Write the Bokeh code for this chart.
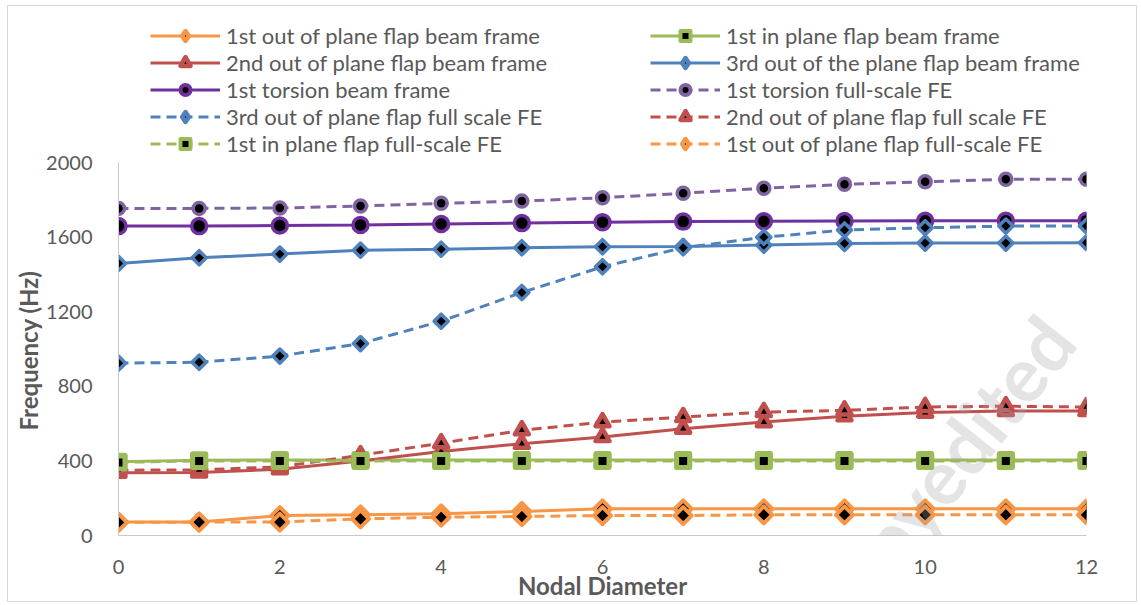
import math
from bokeh.plotting import figure
from bokeh.models import Legend, LegendItem, Label, FixedTicker, Range1d, Title
from bokeh.embed import file_html
from bokeh.resources import INLINE

# ---------------- data ----------------
nodal_diameter = list(range(13))
x_ticks = [0, 2, 4, 6, 8, 10, 12]
y_ticks = [0, 400, 800, 1200, 1600, 2000]

oop1_beam = [72, 72, 107, 111, 116, 129, 143, 143, 143, 143, 143, 143, 143]
ip1_beam = [395, 403, 405, 405, 405, 405, 405, 405, 405, 405, 405, 405, 405]
oop2_beam = [337, 338, 355, 400, 451, 492, 528, 573, 608, 639, 659, 668, 668]
oop3_beam = [1459, 1489, 1509, 1530, 1535, 1543, 1548, 1550, 1557, 1566, 1568, 1568, 1570]
tors1_beam = [1659, 1659, 1662, 1665, 1670, 1675, 1680, 1683, 1685, 1686, 1687, 1688, 1688]
tors1_fe = [1754, 1754, 1756, 1767, 1781, 1793, 1811, 1835, 1862, 1883, 1897, 1910, 1910]
oop3_fe = [924, 929, 962, 1029, 1149, 1303, 1441, 1543, 1599, 1638, 1650, 1659, 1659]
oop2_fe = [350, 352, 368, 430, 495, 564, 608, 635, 662, 671, 689, 693, 689]
ip1_fe = [392, 400, 400, 400, 400, 400, 400, 400, 400, 400, 400, 400, 400]
oop1_fe = [70, 72, 72, 89, 98, 102, 107, 107, 111, 111, 111, 111, 111]

labels = [
    "1st out of plane flap beam frame",
    "1st in plane flap beam frame",
    "2nd out of plane flap beam frame",
    "3rd out of the plane flap beam frame",
    "1st torsion beam frame",
    "1st torsion full-scale FE",
    "3rd out of plane flap full scale FE",
    "2nd out of plane flap full scale FE",
    "1st in plane flap full-scale FE",
    "1st out of plane flap full-scale FE",
]

ORANGE = "#F79646"
GREEN = "#9BBB59"
RED = "#C0504D"
BLUE = "#4F81BD"
PURPLE = "#7030A0"
LPURPLE = "#8064A2"
DIA = math.pi / 4

# (values, color, dash, marker, angle, size, lw, legend_marker, legend_size, legend_lw)
series = [
    (oop1_beam, ORANGE, "solid", "square", DIA, 12, 4, "diamond", 13, 4.5),
    (ip1_beam, GREEN, "solid", "square", 0, 13, 5, "square", 10, 4),
    (oop2_beam, RED, "solid", "triangle", 0, 14, 4.5, "triangle", 13, 4.5),
    (oop3_beam, BLUE, "solid", "square", DIA, 10, 3.5, "diamond", 13, 4.5),
    (tors1_beam, PURPLE, "solid", "circle", 0, 15, 3.5, "circle", 13, 4),
    (tors1_fe, LPURPLE, "10 6", "circle", 0, 12, 3.5, "circle", 12, 4),
    (oop3_fe, BLUE, "10 6", "square", DIA, 10, 3.5, "diamond", 13, 4.5),
    (oop2_fe, RED, "10 6", "triangle", 0, 14, 4.5, "triangle", 13, 4.5),
    (ip1_fe, GREEN, "10 6", "square", 0, 13, 5, "square", 10, 4),
    (oop1_fe, ORANGE, "10 6", "square", DIA, 12, 4, "diamond", 13, 4.5),
]

FONT = "Lato"
GREY = "#595959"

# layout (page pixels): frame spans y 20..535, value 2000 sits at y=162
FRAME_TOP, AXIS_TOP, FRAME_BOTTOM = 20, 162, 535
Y_MAX = 2000
Y_END = Y_MAX * (FRAME_BOTTOM - FRAME_TOP) / (FRAME_BOTTOM - AXIS_TOP)

p = figure(width=1130, height=597, output_backend="svg", toolbar_location=None,
           x_range=Range1d(0, 12), y_range=Range1d(0, Y_END),
           min_border_left=110, min_border_right=52, min_border_top=14,
           min_border_bottom=68)
p.styles = {"margin-left": "7px", "margin-top": "5px", "border": "1px solid #D9D9D9"}
p.outline_line_color = None
p.xgrid.visible = False
p.ygrid.visible = False
p.extra_y_ranges = {"hidden": Range1d(100000, 200000)}

for vals, color, dash, marker, ang, size, lw, lmarker, lsize, llw in series:
    p.line(nodal_diameter, vals, line_color=color, line_width=3, line_dash=dash)
    p.scatter(nodal_diameter, vals, marker=marker, angle=ang, size=size,
              fill_color="black", line_color=color, line_width=lw,
              line_join="round")

# legend-only renderers (same data, mapped outside the visible frame)
legend_items = []
for (vals, color, dash, marker, ang, size, lw, lmarker, lsize, llw), lab in zip(series, labels):
    lr = p.line(nodal_diameter, vals, line_color=color, line_width=3,
                line_dash=dash, y_range_name="hidden")
    mr = p.scatter(nodal_diameter, vals, marker=lmarker, size=lsize,
                   fill_color="black", line_color=color, line_width=llw,
                   line_join="round", y_range_name="hidden")
    legend_items.append(LegendItem(label=lab, renderers=[lr, mr]))

def make_legend(items, loc):
    return Legend(items=items, location=loc, orientation="vertical",
                  glyph_width=70, glyph_height=25, label_height=25, spacing=-2,
                  padding=0, margin=0, label_standoff=6,
                  label_text_font=FONT, label_text_font_size="22px",
                  label_text_color=GREY, border_line_alpha=0,
                  background_fill_alpha=0)

p.add_layout(make_legend(legend_items[0::2], (32, 378)), "center")
p.add_layout(make_legend(legend_items[1::2], (532, 378)), "center")

for ax in (p.xaxis[0], p.yaxis[0]):
    ax.axis_line_color = "#C8C8C8"
    ax.axis_line_width = 1
    ax.major_tick_line_color = None
    ax.minor_tick_line_color = None
    ax.major_label_text_font = FONT
    ax.major_label_text_font_size = "20px"
    ax.major_label_text_color = GREY
    ax.axis_label_text_font = FONT
    ax.axis_label_text_font_size = "24px"
    ax.axis_label_text_font_style = "bold"
    ax.axis_label_text_color = GREY

p.xaxis.ticker = FixedTicker(ticks=x_ticks)
p.yaxis.ticker = FixedTicker(ticks=y_ticks)
p.yaxis.bounds = (0, Y_MAX)
p.xaxis.axis_label = "Nodal Diameter"
p.xaxis.major_label_standoff = 18
p.yaxis.major_label_standoff = 20
p.xaxis.axis_label_standoff = -6

ytitle = Title(text="Frequency (Hz)", align="left", offset=105,
               vertical_align="middle", standoff=0, text_font=FONT,
               text_font_size="24px", text_font_style="bold",
               text_color=GREY)
p.add_layout(ytitle, "left")

wm = Label(x=10.19, y=333, text="copyedited", angle=0.90, text_align="center",
           text_baseline="middle", text_font=FONT, text_font_size="76px",
           text_font_style="bold", text_color="#A6A6A6", text_alpha=0.3)
p.add_layout(wm)

open("out.html", "w").write(file_html(p, INLINE))
